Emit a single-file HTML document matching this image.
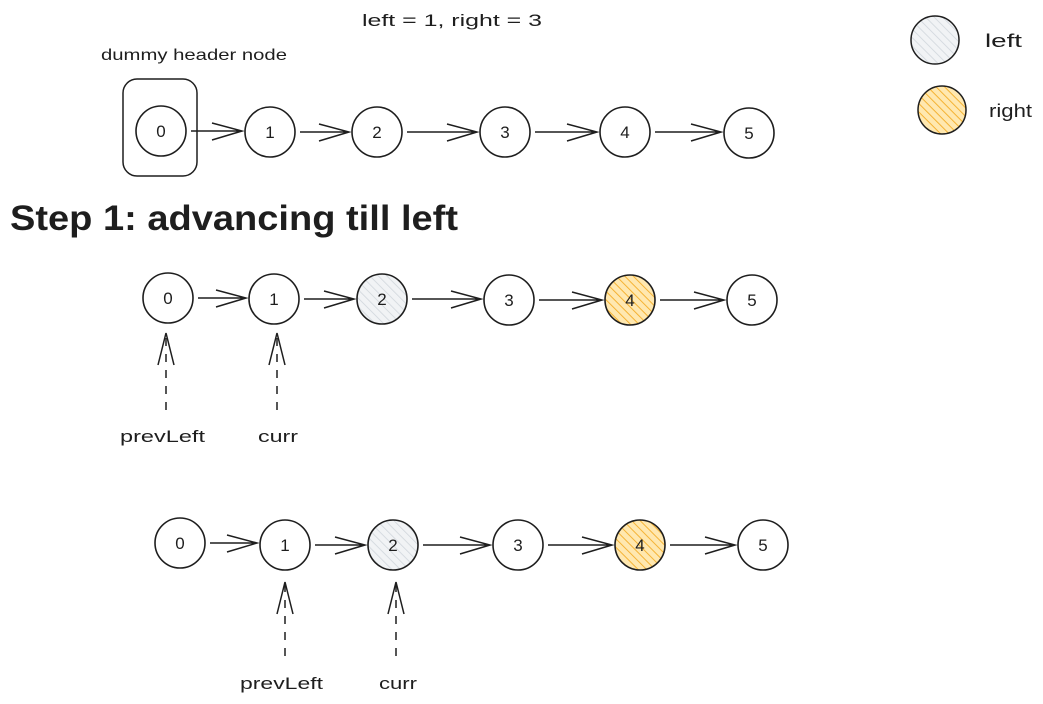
<!DOCTYPE html>
<html><head><meta charset="utf-8"><style>
html,body{margin:0;padding:0;background:#fff;}
svg{display:block;}
text{font-family:"Liberation Sans",sans-serif;fill:#1e1e1e;}
</style></head><body>
<svg id="s" width="1043" height="704" viewBox="0 0 1043 704" xmlns="http://www.w3.org/2000/svg">
<defs>
<pattern id="hg" width="6" height="6" patternUnits="userSpaceOnUse" patternTransform="rotate(-45)"><rect width="6" height="6" fill="#f1f3f5"/><line x1="0" y1="0" x2="0" y2="6" stroke="#ced4da" stroke-width="1.5"/></pattern>
<pattern id="ho" width="6" height="6" patternUnits="userSpaceOnUse" patternTransform="rotate(-45)"><rect width="6" height="6" fill="#ffe8b0"/><line x1="0" y1="0" x2="0" y2="6" stroke="#f5b335" stroke-width="2"/></pattern>
</defs>
<text x="362" y="26" font-size="17" textLength="180" lengthAdjust="spacingAndGlyphs">left = 1, right = 3</text>
<text x="101" y="60" font-size="16" textLength="186" lengthAdjust="spacingAndGlyphs">dummy header node</text>
<text x="10" y="230" font-size="35" font-weight="bold" textLength="448" lengthAdjust="spacingAndGlyphs">Step 1: advancing till left</text>
<rect x="123" y="79" width="74" height="97" rx="14" fill="none" stroke="#1e1e1e" stroke-width="1.5"/>
<circle cx="935" cy="40" r="24" fill="url(#hg)" stroke="#1e1e1e" stroke-width="1.5"/>
<circle cx="942" cy="110" r="24" fill="url(#ho)" stroke="#1e1e1e" stroke-width="1.5"/>
<text x="985" y="47" font-size="18" textLength="37" lengthAdjust="spacingAndGlyphs">left</text>
<text x="989" y="117" font-size="18" textLength="43" lengthAdjust="spacingAndGlyphs">right</text>
<text x="120" y="442" font-size="17" textLength="85" lengthAdjust="spacingAndGlyphs">prevLeft</text>
<text x="258" y="442" font-size="17" textLength="40" lengthAdjust="spacingAndGlyphs">curr</text>
<text x="240" y="689" font-size="17" textLength="83" lengthAdjust="spacingAndGlyphs">prevLeft</text>
<text x="379" y="689" font-size="17" textLength="38" lengthAdjust="spacingAndGlyphs">curr</text>
</svg>
<script>
var s=document.getElementById('s'),NS='http://www.w3.org/2000/svg';
function el(t,a,txt){var e=document.createElementNS(NS,t);for(var k in a)e.setAttribute(k,a[k]);if(txt!=null)e.textContent=txt;s.appendChild(e);return e;}
var rows=[
 {y:[131,132,132,132,132,133],x:[161,270,377,505,625,749],f:[]},
 {y:[298,299,299,300,300,300],x:[168,274,382,509,630,752],f:[null,null,'hg',null,'ho',null]},
 {y:[543,545,545,545,545,545],x:[180,285,393,518,640,763],f:[null,null,'hg',null,'ho',null]}];
rows.forEach(function(r){
 for(var i=0;i<6;i++){
  var fill=r.f[i]?'url(#'+r.f[i]+')':'#fff';
  el('circle',{cx:r.x[i],cy:r.y[i],r:25,fill:fill,stroke:'#1e1e1e','stroke-width':1.6});
  el('text',{x:r.x[i],y:r.y[i]+6,'font-size':17,'text-anchor':'middle'},String(i));
  if(i<5){
   var x1=r.x[i]+30,x2=r.x[i+1]-28,y=r.y[i];
   el('path',{d:'M'+x1+' '+y+' L'+x2+' '+y+' M'+(x2-30)+' '+(y-8)+' L'+x2+' '+y+' L'+(x2-30)+' '+(y+9),fill:'none',stroke:'#1e1e1e','stroke-width':1.5});
  }
 }
});
function up(x,yTop,yBot){
 el('path',{d:'M'+x+' '+yBot+' L'+x+' '+(yTop+2),fill:'none',stroke:'#1e1e1e','stroke-width':1.5,'stroke-dasharray':'8 8'});
 el('path',{d:'M'+(x-8)+' '+(yTop+32)+' L'+x+' '+yTop+' L'+(x+8)+' '+(yTop+32),fill:'none',stroke:'#1e1e1e','stroke-width':1.5});
}
up(166,333,410);up(277,333,410);up(285,582,656);up(396,582,656);
</script>
</body></html>
